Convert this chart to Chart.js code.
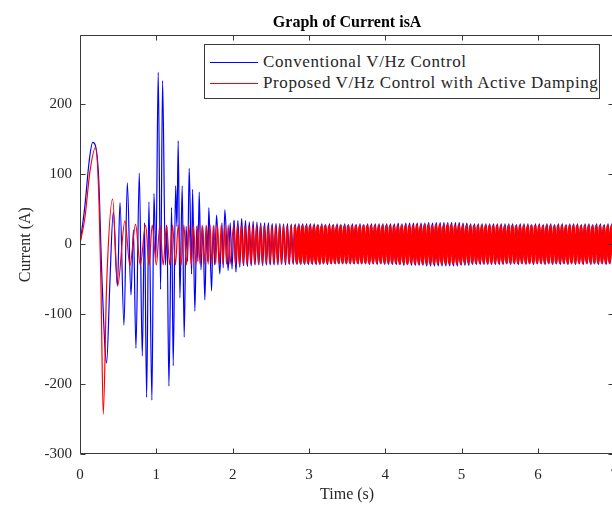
<!DOCTYPE html>
<html>
<head>
<meta charset="utf-8">
<title>Graph of Current isA</title>
<script src="https://cdn.jsdelivr.net/npm/chart.js@4.4.0/dist/chart.umd.min.js"></script>
<style>
    html, body { margin: 0; padding: 0; background: #fff; overflow: hidden; }
    #wrap { position: relative; width: 630px; height: 507px; }
    #currentChart { display: block; width: 630px; height: 507px; }
    #legend {
        position: absolute; left: 204px; top: 44px; width: 394px; height: 53px;
        border: 1px solid #3a3a3a; background: #fff;
        font-family: 'Liberation Serif', serif; font-size: 17px; letter-spacing: 0.6px; color: #262626;
    }
    #legend .item { position: absolute; left: 5px; height: 20px; line-height: 20px; display: flex; align-items: center; white-space: nowrap; }
    #legend .swatch { display: inline-block; width: 48px; height: 1px; margin-right: 5px; }
</style>
</head>
<body>
<div id="wrap">
    <canvas id="currentChart" width="630" height="507"></canvas>
    <div id="legend">
        <div class="item" style="top:7px"><span class="swatch" style="background:#0000ff"></span><span>Conventional V/Hz Control</span></div>
        <div class="item" style="top:28px"><span class="swatch" style="background:#ff0000"></span><span>Proposed V/Hz Control with Active Damping</span></div>
    </div>
</div>
<script>
const xTicks = [0, 1, 2, 3, 4, 5, 6, 7];
const yTicks = [-300, -200, -100, 0, 100, 200];

// start-up transient, 0-2 s: turning points (time in s, current in A)
const convTime = [0, 0.065, 0.12, 0.166, 0.24, 0.284, 0.327, 0.349, 0.39, 0.436,
    0.49, 0.524, 0.576, 0.62, 0.668, 0.70, 0.733, 0.777, 0.816, 0.845,
    0.873, 0.903, 0.942, 0.969, 0.995, 1.025, 1.056, 1.082, 1.119, 1.139,
    1.165, 1.2, 1.221, 1.253, 1.27, 1.287, 1.309, 1.339, 1.365, 1.39,
    1.41, 1.431, 1.462, 1.475, 1.505, 1.53, 1.545, 1.562, 1.585, 1.61,
    1.636, 1.66, 1.675, 1.688, 1.724, 1.745, 1.765, 1.789, 1.832, 1.86,
    1.876, 1.898, 1.941, 1.968, 1.992];
const convCurrent = [0, 55, 118, 145, 104, -38, -148, -170, -60, 45,
    -60, 59, -116, 87, -73, 20, -149, 101, -160, 30,
    -219, 60, -223, 72, -20, 245, -65, 233, -30, 25,
    -203, 52, -174, 83, 25, 147, -77, 83, -133, 25,
    -25, 108, -43, 78, -96, 25, -25, 74, -37, 25,
    -80, 25, -25, 52, -67, 25, -30, 41, -43, 30,
    -34, 49, -38, 30, -36];

const dampTime = [0, 0.065, 0.131, 0.205, 0.25, 0.275, 0.305, 0.349, 0.428, 0.493,
    0.589, 0.654, 0.728, 0.79, 0.86, 0.905, 0.946, 1.0, 1.047, 1.09,
    1.134, 1.175, 1.213, 1.25, 1.287, 1.325, 1.361, 1.395, 1.427, 1.458,
    1.488, 1.517, 1.545, 1.573, 1.6, 1.627, 1.653, 1.679, 1.704, 1.729,
    1.754, 1.778, 1.802, 1.826, 1.85, 1.873, 1.896, 1.919, 1.942, 1.965];
const dampCurrent = [0, 38, 104, 138, 57, -62, -243, -58, 64, -60,
    33, -31, 28, -30, 27, -30, 27, -30, 27, -30,
    27, -30, 27, -30, 27, -30, 27, -30, 27, -30,
    27, -30, 27, -29, 27, -29, 27, -29, 27, -29,
    27, -29, 27, -29, 27, -29, 27, -29, 27, -29];

// 2-7 s both traces sit in a narrow band; peaks/troughs for each 0.5 s block
const bandStart = [2.0, 2.5, 3.0, 3.5, 4.0, 4.5, 5.0, 5.5, 6.0, 6.5];
const convBand = [
    [34, -40, 33, -33, 36, -31, 33, -32, 31, -31, 32, -30, 31, -30, 30, -31, 30, -30, 30, -30],
    [29, -30, 29, -30, 29, -29, 28, -30, 29, -29, 28, -29, 28, -29, 28, -29, 28, -29, 28, -29],
    [28, -29, 28, -29, 27, -29, 28, -28, 27, -29, 28, -28, 27, -28, 28, -28, 27, -28, 28, -28],
    [27, -28, 28, -28, 27, -28, 28, -28, 27, -28, 28, -29, 28, -28, 28, -29, 28, -28, 28, -29],
    [28, -29, 28, -29, 28, -29, 29, -29, 28, -30, 29, -29, 29, -30, 29, -30, 29, -30, 29, -30],
    [29, -31, 30, -31, 29, -31, 30, -31, 30, -31, 30, -31, 30, -31, 30, -31, 30, -31, 30, -30],
    [29, -30, 29, -30, 28, -29, 28, -29, 28, -29, 28, -29, 28, -29, 28, -29, 28, -29, 28, -29],
    [28, -29, 28, -28, 28, -29, 28, -28, 27, -29, 28, -28, 28, -29, 28, -28, 27, -29, 28, -28],
    [28, -28, 27, -29, 28, -28, 28, -29, 27, -28, 28, -29, 28, -28, 27, -29, 28, -28, 28, -29],
    [28, -28, 27, -29, 28, -28, 28, -29, 27, -28, 28, -29, 28, -28, 27, -29, 28, -28, 28, -29]
];
const dampBand = [
    [26, -29, 26, -29, 26, -28, 26, -29, 26, -28, 26, -28, 26, -28, 26, -28, 26, -28, 26, -28],
    [26, -28, 26, -28, 26, -28, 26, -27, 26, -28, 26, -27, 26, -27, 25, -27, 26, -27, 25, -27],
    [26, -27, 25, -27, 26, -27, 25, -27, 26, -27, 25, -27, 26, -27, 25, -27, 26, -27, 25, -27],
    [26, -27, 25, -27, 26, -27, 25, -27, 26, -27, 26, -27, 26, -27, 26, -27, 26, -27, 26, -27],
    [26, -27, 26, -27, 26, -27, 26, -28, 26, -27, 26, -28, 26, -27, 26, -28, 27, -28, 26, -28],
    [27, -28, 27, -28, 26, -28, 27, -28, 27, -28, 26, -28, 27, -28, 27, -28, 26, -28, 27, -28],
    [26, -27, 26, -27, 26, -27, 26, -27, 26, -27, 26, -27, 26, -27, 26, -27, 26, -27, 26, -27],
    [26, -27, 25, -27, 26, -27, 26, -27, 25, -27, 26, -27, 26, -27, 25, -27, 26, -27, 26, -27],
    [26, -27, 25, -27, 26, -27, 26, -27, 25, -27, 26, -27, 26, -27, 25, -27, 26, -27, 26, -27],
    [26, -27, 25, -27, 26, -27, 26, -27, 25, -27, 26, -27, 26, -27, 25, -27, 26, -27, 26, -27]
];

const fontFamily = "'Liberation Serif', 'Times New Roman', serif";

function buildPoints(times, values, band, shift) {
    const pts = times.map((t, i) => ({ x: t, y: values[i] }));
    band.forEach((row, k) => {
        const step = 0.5 / row.length;
        row.forEach((v, i) => pts.push({ x: bandStart[k] + (i + 0.5) * step + shift, y: v }));
    });
    return pts;
}

// MATLAB style box: axis lines all round with inward tick marks
const boxAxes = {
    id: 'boxAxes',
    afterDraw(chart) {
        const { ctx, chartArea: a, scales } = chart;
        const L = Math.round(a.left) + 0.5, R = Math.round(a.right) - 0.5;
        const T = Math.round(a.top) + 0.5, B = Math.round(a.bottom) - 0.5;
        const len = 5;
        ctx.save();
        ctx.strokeStyle = '#3a3a3a';
        ctx.lineWidth = 1;
        ctx.beginPath();
        ctx.rect(L, T, R - L, B - T);
        xTicks.forEach(v => {
            const x = Math.round(scales.x.getPixelForValue(v)) + 0.5;
            ctx.moveTo(x, B); ctx.lineTo(x, B - len);
            ctx.moveTo(x, T); ctx.lineTo(x, T + len);
        });
        yTicks.forEach(v => {
            const y = Math.round(scales.y.getPixelForValue(v)) + 0.5;
            ctx.moveTo(L, y); ctx.lineTo(L + len, y);
            ctx.moveTo(R, y); ctx.lineTo(R - len, y);
        });
        ctx.stroke();
        ctx.restore();
    }
};

// the band gets denser after ~3 s, thicker strokes keep it solid there
const redWidth = ctx => ctx.p0.parsed.x < 2 ? 1.2 : (ctx.p0.parsed.x < 2.8 ? 1.6 : 2.6);
const blueWidth = ctx => ctx.p0.parsed.x < 2 ? 1.2 : (ctx.p0.parsed.x < 2.8 ? 1.4 : 2.0);

new Chart(document.getElementById('currentChart'), {
    type: 'line',
    data: {
        datasets: [{
            label: 'Proposed V/Hz Control with Active Damping',
            data: buildPoints(dampTime, dampCurrent, dampBand, 0),
            borderColor: '#ff0000',
            borderWidth: 1.2,
            segment: { borderWidth: redWidth },
            cubicInterpolationMode: 'monotone',
            pointRadius: 0,
            order: 0
        }, {
            label: 'Conventional V/Hz Control',
            data: buildPoints(convTime, convCurrent, convBand, 0.006),
            borderColor: '#0000ff',
            borderWidth: 1.2,
            segment: { borderWidth: blueWidth },
            cubicInterpolationMode: 'monotone',
            pointRadius: 0,
            order: 1
        }]
    },
    options: {
        responsive: false,
        animation: false,
        layout: { padding: 0 },
        plugins: {
            legend: { display: false },
            tooltip: { enabled: false },
            title: {
                display: true,
                text: 'Graph of Current isA',
                fullSize: false,
                color: '#000',
                font: { family: fontFamily, size: 16, weight: 'bold' },
                padding: { top: 13, bottom: 3 }
            }
        },
        scales: {
            x: {
                type: 'linear',
                min: 0,
                max: 7,
                afterBuildTicks: s => { s.ticks = xTicks.map(v => ({ value: v })); },
                afterFit: s => { s.height = 53; },
                grid: { display: false, drawTicks: false },
                border: { display: false },
                ticks: { color: '#262626', font: { family: fontFamily, size: 15 }, padding: 12, maxRotation: 0 },
                title: {
                    display: true,
                    text: 'Time (s)',
                    color: '#262626',
                    font: { family: fontFamily, size: 16 },
                    padding: { top: 0, bottom: 3 }
                }
            },
            y: {
                type: 'linear',
                min: -300,
                max: 298,
                afterBuildTicks: s => { s.ticks = yTicks.map(v => ({ value: v })); },
                afterFit: s => { s.width = 80; },
                grid: { display: false, drawTicks: false },
                border: { display: false },
                ticks: { color: '#262626', font: { family: fontFamily, size: 15 }, padding: 8 },
                title: {
                    display: true,
                    text: 'Current (A)',
                    color: '#262626',
                    font: { family: fontFamily, size: 16 },
                    padding: { top: 16, bottom: 0 }
                }
            }
        }
    },
    plugins: [boxAxes]
});
</script>
</body>
</html>
